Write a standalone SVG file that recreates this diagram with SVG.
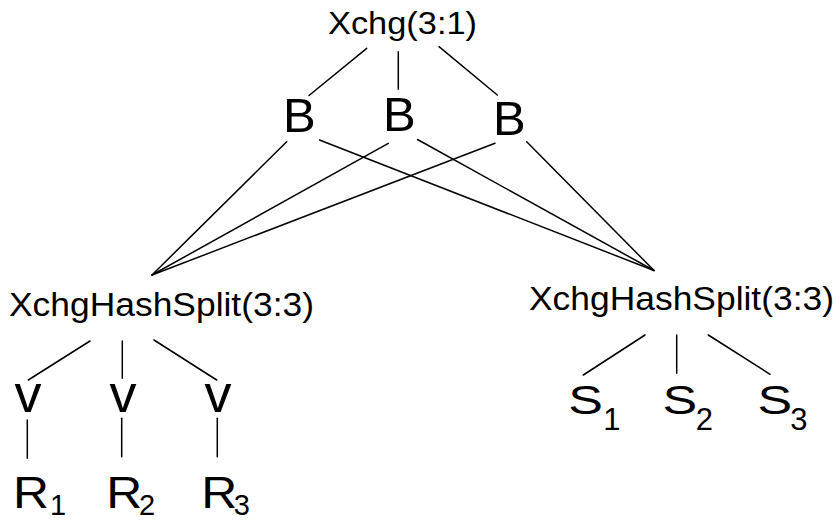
<svg xmlns="http://www.w3.org/2000/svg" width="840" height="521" viewBox="0 0 840 521">
<style>
  text { font-family: "Liberation Sans", Arial, Helvetica, sans-serif; fill: #000; }
  .edge { stroke: #000; stroke-width: 1.5; fill: none; stroke-linecap: round; }
  .small { font-size: 31px; }
  .xhs { font-size: 32.5px; }
  .b { font-size: 49px; }
  .v { font-size: 54px; }
  .r { font-size: 45px; }
  .s { font-size: 40px; }
  .sub { font-size: 31px; }
  .rsub { font-size: 29px; }
</style>
<rect width="840" height="521" fill="#fff"/>
<g id="connectors">
  <path class="edge" d="M366.7,48.3 L309,95.5"/>
  <path class="edge" d="M398.3,51.7 L398.3,89.3"/>
  <path class="edge" d="M439,46.7 L497.3,95"/>
  <path class="edge" d="M286.7,141.7 L152,275"/>
  <path class="edge" d="M319.5,140 L654,270.5"/>
  <path class="edge" d="M388.3,143.3 L152,275"/>
  <path class="edge" d="M417.5,139.5 L654,270.5"/>
  <path class="edge" d="M495,143.3 L152,275"/>
  <path class="edge" d="M526.7,141.7 L654,270.5"/>
  <path class="edge" d="M90,341 L28.3,380"/>
  <path class="edge" d="M122.3,341 L122.3,378.3"/>
  <path class="edge" d="M154,340 L216.7,380"/>
  <path class="edge" d="M27.3,420 L27.3,458.3"/>
  <path class="edge" d="M121.7,418.3 L121.7,456.7"/>
  <path class="edge" d="M217.3,418.3 L217.3,456.7"/>
  <path class="edge" d="M645,335 L583.3,375"/>
  <path class="edge" d="M676.7,335 L676.7,373.3"/>
  <path class="edge" d="M708.3,335 L770,374.3"/>
</g>
<g id="xchg"><text class="small" x="328" y="33.5" textLength="149" lengthAdjust="spacingAndGlyphs">Xchg(3:1)</text></g>
<g id="b1"><text class="b" x="283" y="131.5">B</text></g>
<g id="b2"><text class="b" x="383" y="130.5">B</text></g>
<g id="b3"><text class="b" x="493" y="135">B</text></g>
<g id="xhs-left"><text class="xhs" x="9" y="316" textLength="305" lengthAdjust="spacingAndGlyphs">XchgHashSplit(3:3)</text></g>
<g id="xhs-right"><text class="xhs" x="529" y="310" textLength="305" lengthAdjust="spacingAndGlyphs">XchgHashSplit(3:3)</text></g>
<g id="v1"><text class="v" x="14.6" y="411.7">v</text></g>
<g id="v2"><text class="v" x="109.6" y="411.7">v</text></g>
<g id="v3"><text class="v" x="204.6" y="411.7">v</text></g>
<g id="r1"><text class="r" x="12.9" y="508" textLength="36" lengthAdjust="spacingAndGlyphs">R</text><text class="rsub" x="50" y="514.5">1</text></g>
<g id="r2"><text class="r" x="106.2" y="508" textLength="36" lengthAdjust="spacingAndGlyphs">R</text><text class="rsub" x="139" y="514.5">2</text></g>
<g id="r3"><text class="r" x="201.2" y="508" textLength="36" lengthAdjust="spacingAndGlyphs">R</text><text class="rsub" x="233.7" y="514.5">3</text></g>
<g id="s1"><text class="s" x="568.3" y="414" textLength="34.7" lengthAdjust="spacingAndGlyphs">S</text><text class="sub" x="603.2" y="429.5">1</text></g>
<g id="s2"><text class="s" x="662.6" y="414" textLength="34.7" lengthAdjust="spacingAndGlyphs">S</text><text class="sub" x="695.7" y="429.5">2</text></g>
<g id="s3"><text class="s" x="757.6" y="414" textLength="34.7" lengthAdjust="spacingAndGlyphs">S</text><text class="sub" x="790.3" y="429.5">3</text></g>
</svg>
